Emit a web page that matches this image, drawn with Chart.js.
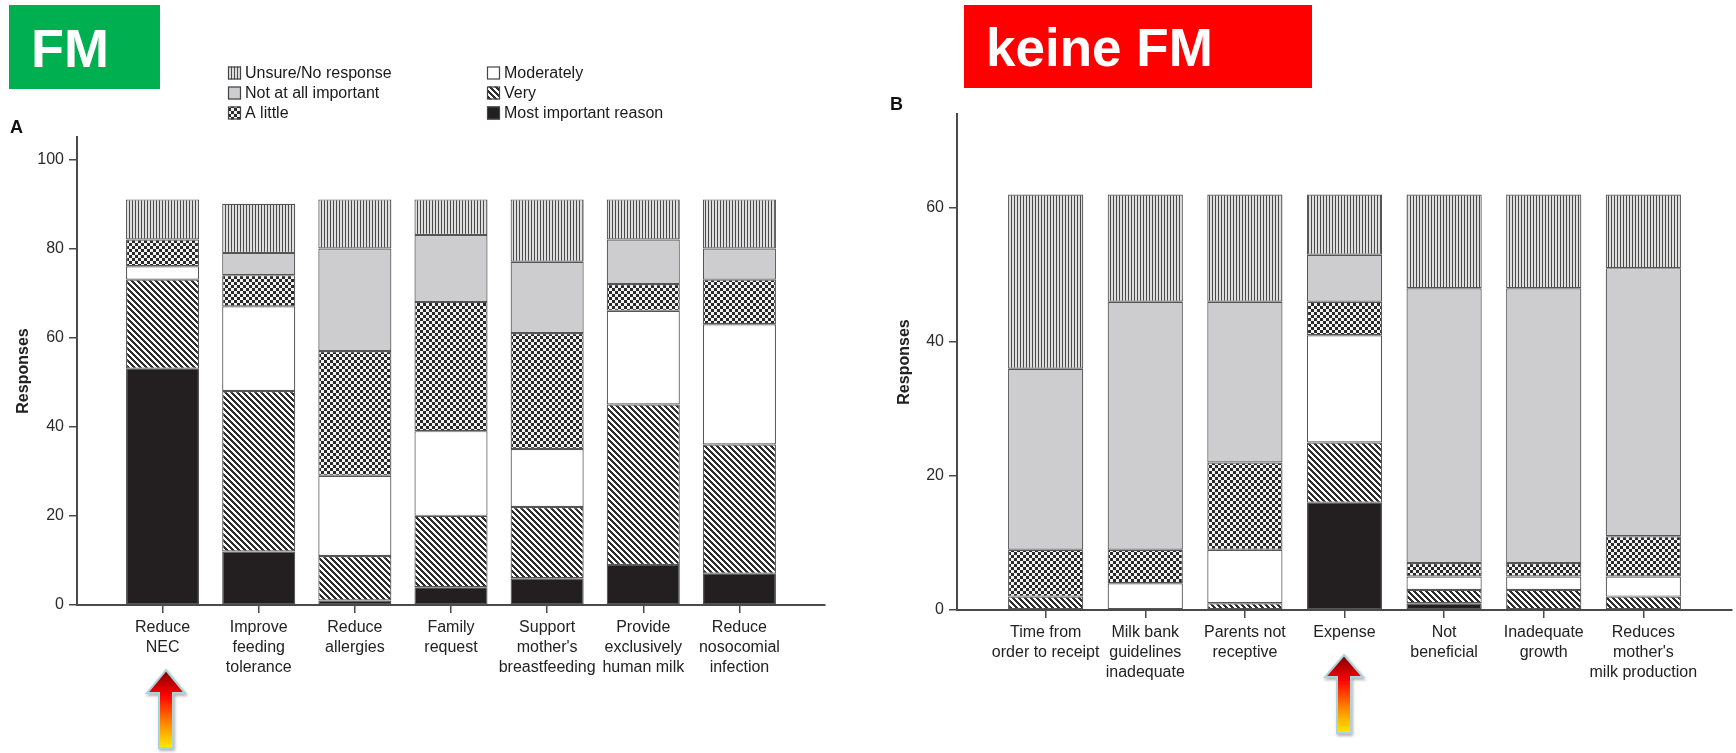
<!DOCTYPE html>
<html>
<head>
<meta charset="utf-8">
<title>Gründe für und gegen Frauenmilch</title>
<script src="https://cdn.jsdelivr.net/npm/chart.js@4.4.1/dist/chart.umd.min.js"></script>
<style>
  html, body { margin: 0; padding: 0; background: #fff; }
  body { width: 1736px; height: 753px; position: relative; overflow: hidden; }
  canvas { position: absolute; top: 0; }
  #chartA { left: 0; }
  #chartB { left: 870px; }
  #overlay { position: absolute; left: 0; top: 0; pointer-events: none; }
</style>
</head>
<body>
<canvas id="chartA" width="870" height="753"></canvas>
<canvas id="chartB" width="866" height="753"></canvas>

<svg id="overlay" width="1736" height="753" xmlns="http://www.w3.org/2000/svg">
  <defs>
    <linearGradient id="arrowFill" x1="0" y1="0" x2="0" y2="1">
      <stop offset="0" stop-color="#7a0000"/>
      <stop offset="0.32" stop-color="#ff0000"/>
      <stop offset="0.7" stop-color="#ff8c00"/>
      <stop offset="1" stop-color="#ffeb00"/>
    </linearGradient>
    <filter id="arrowShadow" x="-50%" y="-20%" width="200%" height="140%">
      <feDropShadow dx="1" dy="2" stdDeviation="1.5" flood-color="#000" flood-opacity="0.3"/>
    </filter>
  </defs>
  <rect x="9" y="5" width="151" height="84" fill="#00b050"/>
  <text x="31" y="66.5" font-family="'Liberation Sans', Arial, sans-serif" font-weight="bold" font-size="54" fill="#fff">FM</text>
  <rect x="964" y="5" width="348" height="83" fill="#ff0000"/>
  <text x="986" y="66" font-family="'Liberation Sans', Arial, sans-serif" font-weight="bold" font-size="53" fill="#fff">keine FM</text>
  <text x="10" y="133" font-family="'Liberation Sans', Arial, sans-serif" font-weight="bold" font-size="18" fill="#111">A</text>
  <text x="890" y="110" font-family="'Liberation Sans', Arial, sans-serif" font-weight="bold" font-size="18" fill="#111">B</text>
  <polygon points="166,670 185,693 173,693 173,748 159,748 159,693 147,693"
           fill="url(#arrowFill)" stroke="#a9d4dc" stroke-width="2" filter="url(#arrowShadow)"/>
  <polygon points="1344,655 1363,677 1351,677 1351,733 1337,733 1337,677 1325,677"
           fill="url(#arrowFill)" stroke="#a9d4dc" stroke-width="2" filter="url(#arrowShadow)"/>
</svg>

<script>
// ---- Panel A: reasons for using donor milk ----
const categoriesA = [
  ["Reduce", "NEC"],
  ["Improve", "feeding", "tolerance"],
  ["Reduce", "allergies"],
  ["Family", "request"],
  ["Support", "mother's", "breastfeeding"],
  ["Provide", "exclusively", "human milk"],
  ["Reduce", "nosocomial", "infection"]
];
const mostImportantA = [53, 12, 1, 4, 6, 9, 7];
const veryA          = [20, 36, 10, 16, 16, 36, 29];
const moderatelyA    = [3, 19, 18, 19, 13, 21, 27];
const aLittleA       = [6, 7, 28, 29, 26, 6, 10];
const notAtAllA      = [0, 5, 23, 15, 16, 10, 7];
const unsureA        = [9, 11, 11, 8, 14, 9, 11];
const yTicksA = [0, 20, 40, 60, 80, 100];

// ---- Panel B: reasons for not using donor milk ----
const categoriesB = [
  ["Time from", "order to receipt"],
  ["Milk bank", "guidelines", "inadequate"],
  ["Parents not", "receptive"],
  ["Expense"],
  ["Not", "beneficial"],
  ["Inadequate", "growth"],
  ["Reduces", "mother's", "milk production"]
];
const mostImportantB = [0, 0, 0, 16, 1, 0, 0];
const veryB          = [2, 0, 1, 9, 2, 3, 2];
const moderatelyB    = [0, 4, 8, 16, 2, 2, 3];
const aLittleB       = [7, 5, 13, 5, 2, 2, 6];
const notAtAllB      = [27, 37, 24, 7, 41, 41, 40];
const unsureB        = [26, 16, 16, 9, 14, 14, 11];
const yTicksB = [0, 20, 40, 60];

const seriesNames = ["Most important reason", "Very", "Moderately", "A little",
                     "Not at all important", "Unsure/No response"];

// ---- fill patterns ----
function makePattern(size, paint) {
  const c = document.createElement('canvas');
  c.width = size; c.height = size;
  const g = c.getContext('2d');
  paint(g, size);
  return g.createPattern(c, 'repeat');
}
const stripes = makePattern(3, (g) => {
  g.fillStyle = '#dedede'; g.fillRect(0, 0, 3, 3);
  g.fillStyle = '#4a4a4a'; g.fillRect(0, 0, 1, 3);
});
const checker = makePattern(6, (g) => {
  g.fillStyle = '#f2f2f2'; g.fillRect(0, 0, 6, 6);
  g.fillStyle = '#2a2a2a'; g.fillRect(0, 0, 3, 3); g.fillRect(3, 3, 3, 3);
});
const hatch = makePattern(6, (g, n) => {
  g.fillStyle = '#ffffff'; g.fillRect(0, 0, n, n);
  g.fillStyle = '#2e2e2e';
  for (let y = 0; y < n; y++) for (let x = 0; x < n; x++) {
    if (((x - y) % n + n) % n < 3) g.fillRect(x, y, 1, 1);
  }
});
const fills = ['#231f20', hatch, '#ffffff', checker, '#cdcdcf', stripes];

function buildDatasets(cols) {
  return cols.map((vals, k) => ({
    label: seriesNames[k],
    data: vals.map((v, i) => ({ x: i, y: v })),
    backgroundColor: fills[k],
    borderColor: '#555555',
    borderWidth: 1.2,
    borderSkipped: false
  }));
}

// legend drawn in two columns of three rows, top-of-stack first
const cornerLegend = {
  id: 'cornerLegend',
  afterDraw(chart, args, opts) {
    if (!opts.show) return;
    const ctx = chart.ctx;
    const ds = chart.data.datasets;
    ctx.save();
    ctx.font = '16px "Liberation Sans", Arial, sans-serif';
    ctx.textBaseline = 'middle';
    opts.order.forEach((col, c) => {
      col.forEach((dsIndex, r) => {
        const x = opts.columns[c], y = opts.rows[r], s = opts.box;
        ctx.fillStyle = ds[dsIndex].backgroundColor;
        ctx.fillRect(x, y - s / 2, s, s);
        ctx.strokeStyle = '#444';
        ctx.lineWidth = 1.2;
        ctx.strokeRect(x + 0.5, y - s / 2 + 0.5, s - 1, s - 1);
        ctx.fillStyle = '#1a1a1a';
        ctx.fillText(ds[dsIndex].label, x + s + 4, y + 1);
      });
    });
    ctx.restore();
  }
};

const FONT = '"Liberation Sans", Arial, sans-serif';

function makeChart(id, cats, cols, yMax, yTicks, geom) {
  return new Chart(document.getElementById(id), {
    type: 'bar',
    data: { datasets: buildDatasets(cols) },
    plugins: [cornerLegend],
    options: {
      responsive: false,
      animation: false,
      devicePixelRatio: 1,
      events: [],
      layout: { padding: { top: geom.top, right: geom.right, left: 0, bottom: 0 } },
      datasets: { bar: { categoryPercentage: 1, barPercentage: geom.barPct } },
      plugins: {
        legend: { display: false },
        tooltip: { enabled: false },
        cornerLegend: geom.legend || { show: false }
      },
      scales: {
        x: {
          type: 'linear',
          stacked: true,
          min: -0.89,
          max: cats.length - 1 + 0.89,
          offset: false,
          afterBuildTicks: (s) => { s.ticks = cats.map((_, i) => ({ value: i })); },
          afterFit: (s) => { s.height = geom.xHeight; },
          grid: { display: true, drawOnChartArea: false, drawTicks: true, tickLength: 8,
                  color: '#4a4a4a', lineWidth: 1.5, offset: false },
          border: { display: true, color: '#4a4a4a', width: 2 },
          ticks: {
            autoSkip: false, maxRotation: 0, minRotation: 0, padding: 5,
            color: '#222',
            font: { family: FONT, size: 16, lineHeight: 1.25 },
            callback: (v) => cats[v]
          }
        },
        y: {
          stacked: true,
          min: 0,
          max: yMax,
          afterBuildTicks: (s) => { s.ticks = yTicks.map((v) => ({ value: v })); },
          afterFit: (s) => { s.width = geom.yWidth; },
          grid: { display: true, drawOnChartArea: false, drawTicks: true, tickLength: 8,
                  color: '#4a4a4a', lineWidth: 1.5 },
          border: { display: true, color: '#4a4a4a', width: 2 },
          ticks: { padding: 5, color: '#2b2b2b', font: { family: FONT, size: 16 } },
          title: {
            display: true, text: 'Responses', color: '#222',
            font: { family: FONT, size: 16, weight: 'bold' },
            padding: { top: geom.titlePad, bottom: 0 }
          }
        }
      }
    }
  });
}

makeChart('chartA', categoriesA,
  [mostImportantA, veryA, moderatelyA, aLittleA, notAtAllA, unsureA],
  105, yTicksA,
  { top: 137, right: 45, xHeight: 148, yWidth: 77, titlePad: 14, barPct: 0.76,
    legend: { show: true, columns: [228, 487], rows: [73, 93, 113], box: 13,
              order: [[5, 4, 3], [2, 1, 0]] } });

makeChart('chartB', categoriesB,
  [mostImportantB, veryB, moderatelyB, aLittleB, notAtAllB, unsureB],
  74, yTicksB,
  { top: 114, right: 4, xHeight: 143, yWidth: 87, titlePad: 25, barPct: 0.755 });
</script>
</body>
</html>
